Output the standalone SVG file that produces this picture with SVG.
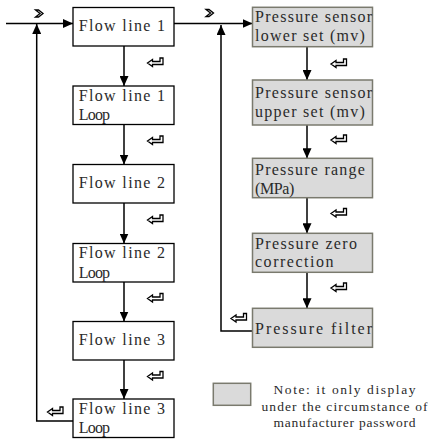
<svg xmlns="http://www.w3.org/2000/svg" width="431" height="441" viewBox="0 0 431 441">
<style>
.bx{fill:#ffffff;stroke:#000000;stroke-width:1.3}
.gb{fill:#dadada;stroke:#7a7a6e;stroke-width:1.5}
.t{font-family:'Liberation Serif','Times New Roman',serif;font-size:16px;fill:#2a2a2a}
.n{font-family:'Liberation Serif','Times New Roman',serif;font-size:13.5px;fill:#2a2a2a;text-anchor:middle}
.ln{fill:none;stroke:#000000;stroke-width:1.5}
.ic{fill:#ffffff;stroke:#000000;stroke-width:1.3;stroke-linejoin:miter}
</style>
<defs>
<marker id="ah" viewBox="0 0 10 9" refX="10" refY="4.5" markerWidth="10" markerHeight="9" markerUnits="userSpaceOnUse" orient="auto">
<path d="M0,0 L10,4.5 L0,9 Z" fill="#000000"/>
</marker>
<path id="ret" d="M0.5,5.5 L5.5,2 L5.5,4 L13,4 L13,0.5 L16,0.5 L16,7 L5.5,7 L5.5,9 Z"/>
<path id="chev" d="M0.5,0.5 L3.5,0.5 L8,4 L3.5,7.5 L0.5,7.5 L5,4 Z"/>
</defs>

<g id="connectors">
<line class="ln" x1="6" y1="23.5" x2="73" y2="23.5" marker-end="url(#ah)"/>
<line class="ln" x1="174" y1="23.5" x2="252.5" y2="23.5" marker-end="url(#ah)"/>
<polyline class="ln" points="73,421 36.7,421 36.7,24" marker-end="url(#ah)"/>
<polyline class="ln" points="252.5,331 221,331 221,25" marker-end="url(#ah)"/>
<line class="ln" x1="124" y1="46" x2="124" y2="86" marker-end="url(#ah)"/>
<line class="ln" x1="124" y1="124.5" x2="124" y2="164.5" marker-end="url(#ah)"/>
<line class="ln" x1="124" y1="203" x2="124" y2="243.5" marker-end="url(#ah)"/>
<line class="ln" x1="124" y1="282" x2="124" y2="321.5" marker-end="url(#ah)"/>
<line class="ln" x1="124" y1="360" x2="124" y2="399" marker-end="url(#ah)"/>
<line class="ln" x1="307" y1="46.7" x2="307" y2="80" marker-end="url(#ah)"/>
<line class="ln" x1="307" y1="125" x2="307" y2="158.3" marker-end="url(#ah)"/>
<line class="ln" x1="307" y1="197.7" x2="307" y2="233.3" marker-end="url(#ah)"/>
<line class="ln" x1="307" y1="272.3" x2="307" y2="308.3" marker-end="url(#ah)"/>
<use href="#chev" class="ic" x="35" y="9.5"/>
<use href="#chev" class="ic" x="205.5" y="9"/>
<use href="#ret" class="ic" x="147" y="57.5"/>
<use href="#ret" class="ic" x="147" y="135.5"/>
<use href="#ret" class="ic" x="147" y="214.5"/>
<use href="#ret" class="ic" x="147" y="293"/>
<use href="#ret" class="ic" x="147" y="371"/>
<use href="#ret" class="ic" x="47" y="406.5"/>
<use href="#ret" class="ic" x="330.5" y="58.5"/>
<use href="#ret" class="ic" x="330.5" y="134.5"/>
<use href="#ret" class="ic" x="330.5" y="208"/>
<use href="#ret" class="ic" x="330.5" y="282.5"/>
<use href="#ret" class="ic" x="230.5" y="313"/>
</g>

<g id="flow1">
<rect class="bx" x="73" y="7.5" width="101" height="38.5"/>
<text class="t" x="78.7" y="30.8" textLength="86.4" lengthAdjust="spacing">Flow line 1</text>
</g>
<g id="flow1loop">
<rect class="bx" x="73" y="86" width="101" height="38.5"/>
<text class="t" x="78.7" y="100.7" textLength="86.4" lengthAdjust="spacing">Flow line 1</text>
<text class="t" x="78.7" y="120" textLength="31.4" lengthAdjust="spacing">Loop</text>
</g>
<g id="flow2">
<rect class="bx" x="73" y="164.5" width="101" height="38.5"/>
<text class="t" x="78.7" y="188" textLength="86.4" lengthAdjust="spacing">Flow line 2</text>
</g>
<g id="flow2loop">
<rect class="bx" x="73" y="243.5" width="101" height="38.5"/>
<text class="t" x="78.7" y="258" textLength="86.4" lengthAdjust="spacing">Flow line 2</text>
<text class="t" x="78.7" y="277.5" textLength="31.4" lengthAdjust="spacing">Loop</text>
</g>
<g id="flow3">
<rect class="bx" x="73" y="321.5" width="101" height="38.5"/>
<text class="t" x="78.7" y="345" textLength="86.4" lengthAdjust="spacing">Flow line 3</text>
</g>
<g id="flow3loop">
<rect class="bx" x="73" y="399" width="101" height="38.5"/>
<text class="t" x="78.7" y="413.5" textLength="86.4" lengthAdjust="spacing">Flow line 3</text>
<text class="t" x="78.7" y="433" textLength="31.4" lengthAdjust="spacing">Loop</text>
</g>

<g id="psLower">
<rect class="gb" x="252.5" y="7.3" width="120" height="39.4"/>
<text class="t" x="255" y="21.8" textLength="117" lengthAdjust="spacing">Pressure sensor</text>
<text class="t" x="255" y="40.5" textLength="109.9" lengthAdjust="spacing">lower set (mv)</text>
</g>
<g id="psUpper">
<rect class="gb" x="252.5" y="80" width="120" height="45"/>
<text class="t" x="255" y="98" textLength="117" lengthAdjust="spacing">Pressure sensor</text>
<text class="t" x="255" y="117" textLength="109.9" lengthAdjust="spacing">upper set (mv)</text>
</g>
<g id="pRange">
<rect class="gb" x="252.5" y="158.3" width="120" height="39.4"/>
<text class="t" x="255" y="175" textLength="109.9" lengthAdjust="spacing">Pressure range</text>
<text class="t" x="255" y="193.5" textLength="39.3" lengthAdjust="spacing">(MPa)</text>
</g>
<g id="pZero">
<rect class="gb" x="252.5" y="233.3" width="120" height="39"/>
<text class="t" x="255" y="248.5" textLength="102" lengthAdjust="spacing">Pressure zero</text>
<text class="t" x="255" y="267" textLength="78.5" lengthAdjust="spacing">correction</text>
</g>
<g id="pFilter">
<rect class="gb" x="252.5" y="308.3" width="120" height="39"/>
<text class="t" x="255" y="333.5" textLength="117" lengthAdjust="spacing">Pressure filter</text>
</g>

<g id="legend">
<rect class="gb" x="213.3" y="383.3" width="37.4" height="22"/>
<text class="n" x="344.5" y="394" textLength="142" lengthAdjust="spacing">Note: it only display</text>
<text class="n" x="344.5" y="410.5" textLength="166" lengthAdjust="spacing">under the circumstance of</text>
<text class="n" x="344.5" y="427" textLength="142" lengthAdjust="spacing">manufacturer password</text>
</g>
</svg>
